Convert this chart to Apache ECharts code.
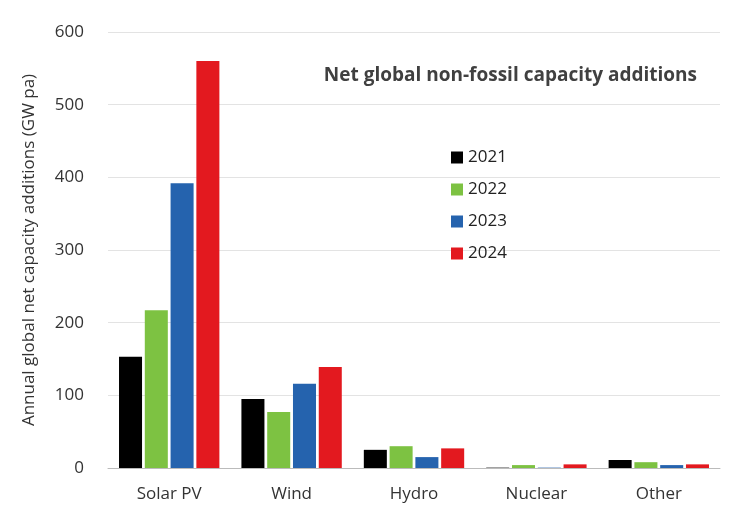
<!DOCTYPE html>
<html>
<head>
<meta charset="utf-8">
<script src="https://cdn.jsdelivr.net/npm/echarts@6/dist/echarts.min.js"></script>
<style>html,body{margin:0;background:#fff}#c{width:732px;height:518px}</style>
</head>
<body>
<div id="c"></div>
<script>
const categories = ["Solar PV", "Wind", "Hydro", "Nuclear", "Other"];
const years = ["2021", "2022", "2023", "2024"];
const v2021 = [153, 95, 25, 0.5, 11];
const v2022 = [217, 77, 30, 4, 8];
const v2023 = [392, 116, 15, 0.5, 4];
const v2024 = [560, 139, 27, 5, 5];
const colors = ["#000000", "#7dc242", "#2563ae", "#e3191f"];

const chart = echarts.init(document.getElementById("c"));
const allValues = [v2021, v2022, v2023, v2024];

chart.setOption({
    textStyle: {fontFamily: "Open Sans"},
    title: {
        text: "Net global non-fossil capacity additions",
        right: 30, top: 61,
        textStyle: {fontSize: 19, fontWeight: "bold", color: "#404040"}
    },
    legend: {
        orient: "vertical", left: 446, top: 144, itemGap: 15,
        itemWidth: 12, itemHeight: 12, icon: "rect",
        textStyle: {fontSize: 17, color: "#222"},
        data: years
    },
    grid: {left: 108, right: 12, top: 32, bottom: 50},
    xAxis: {
        type: "category", data: categories,
        axisLine: {lineStyle: {color: "#bbb"}},
        axisTick: {show: false},
        axisLabel: {fontSize: 17, color: "#333", margin: 18}
    },
    yAxis: {
        type: "value", min: 0, max: 600, interval: 100,
        name: "Annual global net capacity additions (GW pa)",
        nameLocation: "middle", nameGap: 70,
        nameTextStyle: {fontSize: 17, color: "#333"},
        axisLabel: {fontSize: 17, color: "#333", margin: 24},
        splitLine: {lineStyle: {color: "#e3e3e3"}}
    },
    series: years.map(function(y, i) {
        return {
            name: y, type: "bar", data: allValues[i],
            barGap: "12%", barCategoryGap: "18%",
            itemStyle: {color: colors[i]}
        };
    })
});
</script>
</body>
</html>
